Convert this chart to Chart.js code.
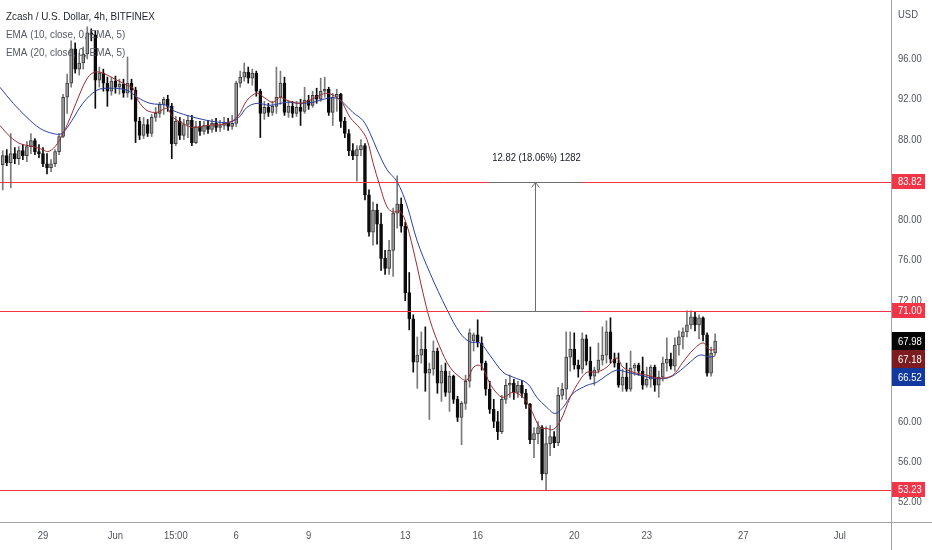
<!DOCTYPE html>
<html>
<head>
<meta charset="utf-8">
<title>Zcash / U.S. Dollar, 4h, BITFINEX</title>
<script src="https://cdn.jsdelivr.net/npm/chart.js@4.4.1/dist/chart.umd.min.js"></script>
<style>
  html, body { margin: 0; padding: 0; background: #ffffff; }
  #wrap { width: 932px; height: 550px; }
</style>
</head>
<body>
<div id="wrap"><canvas id="chart" width="932" height="550"></canvas></div>
<script>
// --- Data ---
// one slot per 4h candle, May 29 00:00 = slot 11, six slots per day
const firstSlot = 1;

const opens = [
  85.5, 86.4, 85.7, 86.6, 86.1, 86.9, 86.4, 87.3, 87.9, 86.8, 86.6, 85.6, 85.2, 85.6, 86.8, 88.3, 92.2, 93.6, 97.0, 95.0,
  95.6, 96.5, 98.6, 98.4, 93.9, 94.6, 93.6, 92.8, 93.8, 93.2, 93.5, 92.6, 93.6, 92.9, 89.8, 88.4, 89.5, 88.6, 90.2, 90.6,
  91.5, 92.0, 91.3, 87.6, 89.8, 88.4, 89.5, 89.9, 87.7, 89.3, 88.8, 89.4, 89.0, 89.6, 89.2, 89.4, 89.6, 89.3, 89.6, 93.6,
  94.2, 94.7, 94.1, 94.6, 92.8, 90.6, 91.2, 90.7, 91.3, 92.2, 93.6, 90.7, 91.3, 90.6, 91.2, 90.8, 91.9, 91.4, 92.4, 92.0,
  92.8, 93.0, 90.7, 92.2, 92.5, 89.8, 88.6, 86.9, 86.4, 87.0, 87.4, 82.5, 78.8, 81.0, 79.6, 76.2, 75.2, 77.0, 80.7, 81.6,
  79.4, 72.8, 70.2, 65.9, 66.6, 67.2, 64.8, 65.2, 67.0, 63.8, 65.0, 62.9, 64.5, 62.2, 60.4, 61.8, 64.0, 68.0, 68.6, 67.8,
  65.8, 63.2, 61.2, 60.0, 59.0, 62.2, 63.6, 63.8, 62.9, 63.6, 62.8, 61.7, 58.2, 58.8, 59.4, 54.8, 57.8, 58.5, 57.9, 62.6,
  63.2, 66.4, 67.2, 65.6, 65.2, 68.2, 66.0, 64.5, 65.1, 66.1, 66.6, 68.9, 66.2, 65.8, 63.6, 64.4, 63.2, 65.3, 65.6, 65.0,
  63.6, 64.2, 65.4, 63.6, 64.4, 65.8, 66.2, 65.5, 67.6, 68.4, 68.9, 69.6, 70.4, 69.6, 70.3, 68.6, 64.8, 66.8
];
const highs = [
  86.9, 87.0, 88.6, 87.2, 87.3, 87.5, 87.8, 88.6, 88.1, 87.5, 87.2, 86.6, 86.0, 87.0, 88.6, 92.5, 94.5, 97.8, 97.6, 96.6,
  97.2, 99.2, 99.0, 98.8, 95.2, 95.0, 94.2, 94.2, 94.3, 94.0, 94.0, 96.2, 94.0, 93.2, 90.2, 90.2, 90.0, 90.5, 91.2, 91.7,
  92.2, 92.4, 91.6, 90.3, 90.2, 90.0, 90.4, 90.4, 89.8, 89.8, 89.8, 89.9, 90.0, 90.1, 89.9, 90.2, 90.1, 90.4, 93.8, 94.8,
  95.6, 95.2, 95.0, 94.8, 93.0, 91.8, 91.6, 91.8, 95.2, 94.8, 94.2, 91.8, 91.8, 91.8, 92.0, 93.2, 92.4, 92.8, 93.1, 94.1,
  94.2, 93.2, 92.6, 93.0, 92.6, 90.2, 89.0, 87.6, 87.4, 88.0, 87.6, 83.0, 81.8, 81.6, 80.7, 77.0, 78.0, 81.2, 84.4, 82.2,
  79.8, 74.8, 70.6, 68.4, 68.9, 69.4, 65.8, 68.0, 67.3, 65.6, 65.8, 65.0, 64.6, 62.5, 62.0, 64.6, 69.2, 68.8, 70.1, 68.4,
  66.0, 64.0, 62.2, 61.0, 62.6, 64.2, 64.6, 64.2, 64.0, 64.1, 63.2, 61.8, 59.4, 60.0, 59.6, 59.5, 59.6, 59.0, 63.4, 63.8,
  68.9, 68.9, 68.8, 66.1, 68.8, 68.6, 67.4, 65.4, 67.8, 69.4, 70.0, 70.3, 66.8, 66.8, 65.2, 65.8, 67.0, 65.8, 65.8, 66.4,
  65.4, 65.6, 65.6, 65.0, 66.4, 68.3, 66.8, 68.3, 69.0, 69.3, 71.0, 71.0, 70.9, 70.6, 70.4, 68.8, 67.4, 68.7
];
const lows = [
  83.0, 85.4, 83.2, 85.6, 85.5, 86.0, 85.8, 86.6, 86.5, 86.2, 85.3, 84.6, 84.8, 85.3, 86.5, 88.2, 90.6, 93.2, 94.6, 94.4,
  95.0, 96.0, 97.8, 91.1, 93.2, 92.8, 91.3, 92.4, 92.6, 92.5, 92.2, 92.2, 92.0, 87.7, 88.0, 88.1, 88.3, 88.3, 89.8, 90.2,
  90.5, 90.8, 86.1, 87.4, 88.0, 88.0, 88.2, 87.4, 87.6, 88.4, 88.5, 88.6, 88.7, 88.8, 88.8, 89.0, 88.9, 89.0, 89.3, 93.2,
  93.8, 93.6, 93.4, 92.3, 88.2, 90.0, 90.3, 90.4, 90.6, 91.5, 90.4, 90.2, 90.2, 90.3, 89.4, 90.6, 91.0, 91.2, 91.6, 91.8,
  92.2, 90.4, 89.4, 90.8, 89.2, 88.2, 86.4, 86.0, 83.9, 86.4, 82.0, 78.4, 77.5, 77.6, 75.0, 74.6, 74.6, 74.4, 79.2, 78.8,
  72.0, 69.1, 64.9, 63.3, 65.8, 63.0, 60.2, 64.6, 62.8, 62.0, 62.5, 61.0, 61.8, 60.0, 57.7, 61.2, 63.4, 67.0, 67.4, 65.1,
  62.6, 60.8, 59.4, 58.2, 58.8, 61.8, 62.4, 62.2, 62.4, 62.4, 61.3, 57.8, 56.4, 57.8, 54.2, 53.23, 56.6, 57.4, 57.6, 62.2,
  62.2, 65.0, 65.2, 64.4, 64.8, 65.6, 64.2, 63.6, 64.8, 65.6, 65.8, 65.8, 65.4, 63.4, 63.0, 63.0, 63.0, 64.6, 64.6, 63.2,
  63.4, 63.4, 63.0, 62.4, 64.0, 65.0, 65.2, 65.0, 66.6, 67.2, 68.4, 69.2, 69.0, 68.2, 68.0, 64.5, 64.5, 66.6
];
const closes = [
  86.4, 85.7, 86.6, 86.1, 86.9, 86.4, 87.3, 87.9, 86.8, 86.6, 85.6, 85.2, 85.6, 86.8, 88.3, 92.2, 93.6, 97.0, 95.0, 95.6,
  96.5, 98.6, 98.4, 93.9, 94.6, 93.6, 92.8, 93.8, 93.2, 93.5, 92.6, 93.6, 92.9, 89.8, 88.4, 89.5, 88.6, 90.2, 90.6, 91.5,
  92.0, 91.3, 87.6, 89.8, 88.4, 89.5, 89.9, 87.7, 89.3, 88.8, 89.4, 89.0, 89.6, 89.2, 89.4, 89.6, 89.3, 89.6, 93.6, 94.2,
  94.7, 94.1, 94.6, 92.8, 90.6, 91.2, 90.7, 91.3, 92.2, 93.6, 90.7, 91.3, 90.6, 91.2, 90.8, 91.9, 91.4, 92.4, 92.0, 92.8,
  93.0, 90.7, 92.2, 92.5, 89.8, 88.6, 86.9, 86.4, 87.0, 87.4, 82.5, 78.8, 81.0, 79.6, 76.2, 75.2, 77.0, 80.7, 81.6, 79.4,
  72.8, 70.2, 65.9, 66.6, 67.2, 64.8, 65.2, 67.0, 63.8, 65.0, 62.9, 64.5, 62.2, 60.4, 61.8, 64.0, 68.8, 68.6, 67.8, 65.8,
  63.2, 61.2, 60.0, 59.0, 62.2, 63.6, 63.8, 62.9, 63.6, 62.8, 61.7, 58.2, 58.8, 59.4, 54.8, 57.8, 58.5, 57.9, 62.6, 63.2,
  66.4, 67.2, 65.6, 65.2, 68.2, 66.0, 64.5, 65.1, 66.1, 66.6, 68.9, 66.2, 65.8, 63.6, 64.4, 63.2, 65.3, 65.6, 65.0, 63.6,
  64.2, 65.4, 63.6, 64.4, 65.8, 66.2, 65.5, 67.6, 68.4, 68.9, 69.6, 70.4, 69.6, 70.3, 68.6, 64.8, 66.8, 67.98
];

// EMA lines, [slot, value]
const ema10 = [
  [0.3, 89.4], [2.8, 88.3], [5.3, 87.6], [8.5, 87.3], [11, 87.0], [12.2, 86.8], [14, 87.3], [16, 88.6], [18.2, 90.6],
  [20.2, 92.6], [22.2, 94.2], [23.9, 94.7], [25.9, 94.6], [28.4, 94.1], [31.9, 93.4], [33.4, 93.1], [34.6, 91.9],
  [36.8, 90.9], [39.3, 90.7], [41.8, 91.1], [43.3, 90.2], [45.8, 89.6], [48.3, 89.2], [51.8, 89.4], [56.7, 89.6],
  [59.4, 90.3], [61.7, 91.9], [64.2, 92.6], [66.2, 92.1], [68.1, 91.7], [69.9, 92.2], [71.6, 91.9], [74.9, 91.6],
  [77.3, 91.9], [79.8, 92.4], [81.6, 92.6], [84, 92.2], [85.3, 91.7], [87.3, 90.2], [89.8, 89.1], [91.5, 88.0],
  [93, 85.7], [94.7, 83.4], [96.5, 81.3], [98, 80.8], [99.7, 80.9], [101.4, 79.5], [103.5, 76.2], [105.4, 72.8],
  [107.2, 70.0], [109.6, 67.4], [112.1, 65.4], [114.6, 64.4], [116.3, 64.1], [117.8, 65.3], [119.1, 65.6], [120.3, 65.3],
  [122, 63.8], [123.8, 62.8], [125.3, 62.4], [127.8, 62.9], [130.3, 62.4], [132, 61.4], [134.5, 59.4], [136.2, 59.3],
  [137.7, 59.2], [139.5, 60.0], [142, 62.4], [144.4, 64.1], [146.2, 64.9], [148.6, 64.9], [151.1, 65.4], [153.6, 66.3],
  [155.1, 65.4], [157.6, 64.9], [161, 64.6], [164.3, 64.3], [167.5, 64.6], [170, 65.9], [172.5, 67.1], [175, 67.8],
  [176.7, 67.1], [178, 67.18]
];
const ema20 = [
  [0.3, 93.2], [3.6, 91.6], [7.0, 90.2], [10.3, 89.1], [13.5, 88.6], [15.7, 88.6], [18.2, 89.9], [20.9, 91.6],
  [24.4, 92.9], [27.7, 93.1], [31.9, 92.9], [34.4, 92.2], [37.6, 91.6], [41.8, 91.4], [43.3, 90.9], [46.8, 90.4],
  [51.8, 89.9], [56.7, 89.7], [59.4, 90.1], [61.7, 91.2], [64.2, 91.6], [67.4, 91.4], [71.6, 91.7], [74.9, 91.6],
  [78.1, 91.7], [81.6, 92.1], [84.0, 92.1], [85.5, 91.7], [88.0, 90.7], [90.5, 89.9], [92.3, 88.6], [94.0, 87.0],
  [96.5, 85.0], [99.0, 83.8], [101.4, 81.5], [104.0, 77.9], [107.2, 74.7], [111.4, 71.1], [114.6, 68.8], [117.1, 67.9],
  [119.6, 67.8], [122.0, 66.6], [125.3, 64.9], [127.8, 64.4], [131.3, 63.8], [133.7, 62.4], [136.2, 61.4], [138.2, 60.8],
  [140.2, 61.4], [142.7, 62.8], [146.2, 63.6], [148.6, 63.9], [151.1, 64.6], [153.6, 65.1], [156.1, 64.9], [159.3, 64.6],
  [162.6, 64.3], [166.0, 64.3], [168.5, 64.8], [171.8, 65.9], [174.2, 66.6], [176.7, 66.4], [178, 66.52]
];

const dateLabels = ["29", "Jun", "15:00", "6", "9", "13", "16", "20", "23", "27", "Jul"];
const dateSlots = [11, 29, 44, 59, 77, 101, 119, 143, 161, 185, 209];
const priceTicks = [52, 56, 60, 64, 68, 72, 76, 80, 84, 88, 92, 96];
const levels = [83.82, 71.00, 53.23];
const measureLow = 71.00;
const measureHigh = 83.82;
const measureSlots = [121.8, 144.9];
const measureText = "12.82 (18.06%) 1282";
const legendLines = ["Zcash / U.S. Dollar, 4h, BITFINEX", "EMA (10, close, 0, EMA, 5)", "EMA (20, close, 0, EMA, 5)"];

// --- Colours ---
const UP_FILL = "#9c9c9c", UP_EDGE = "#3c3c3c", UP_WICK = "#7a7a7a";
const DOWN_FILL = "#0c0c0c";
const LEVEL_RED = "rgb(242, 54, 72)";
const EMA10_COLOR = "#9b2b30";
const EMA20_COLOR = "#2a3fa6";
const AXIS_TEXT = "#4f525c";
const FONT = "'Liberation Sans', Arial, sans-serif";
const SQUEEZE = 0.86; // the original labels use a narrow face

const slots = closes.map((c, i) => firstSlot + i);
const isUp = closes.map((c, i) => c >= opens[i]);

const wickData = slots.map((s, i) => ({ x: s, y: [lows[i], highs[i]] }));
const bodyData = slots.map((s, i) => {
  const lo = Math.min(opens[i], closes[i]);
  const hi = Math.max(opens[i], closes[i]);
  return { x: s, y: [lo, Math.max(hi, lo + 0.06)] };
});

// narrow text helper
function narrowText(ctx, text, x, y, align, color, size) {
  ctx.save();
  ctx.font = (size || 11) + "px " + FONT;
  ctx.fillStyle = color;
  ctx.textBaseline = "middle";
  ctx.textAlign = align;
  ctx.translate(x, y);
  ctx.scale(SQUEEZE, 1);
  ctx.fillText(text, 0, 0);
  ctx.restore();
}

// --- Overlay: levels, measure, axis text, price tags, legend ---
const overlay = {
  id: "overlay",
  afterDatasetsDraw(chart) {
    const { ctx, chartArea: a, scales: { x, y } } = chart;
    ctx.save();
    ctx.beginPath();
    ctx.rect(a.left, a.top, a.width, a.height);
    ctx.clip();
    ctx.lineWidth = 1;

    levels.forEach(v => {
      const py = Math.round(y.getPixelForValue(v)) + 0.5;
      ctx.strokeStyle = LEVEL_RED;
      ctx.beginPath();
      ctx.moveTo(a.left, py);
      ctx.lineTo(a.right, py);
      ctx.stroke();
    });

    // price range tool
    const x0 = x.getPixelForValue(measureSlots[0]);
    const x1 = x.getPixelForValue(measureSlots[1]);
    const xm = Math.round((x0 + x1) / 2) + 0.5;
    const yTop = Math.round(y.getPixelForValue(measureHigh)) + 0.5;
    const yBot = Math.round(y.getPixelForValue(measureLow)) + 0.5;
    ctx.strokeStyle = "#6f6f6f";
    [yTop, yBot].forEach(py => {
      ctx.beginPath();
      ctx.moveTo(x0, py);
      ctx.lineTo(x1, py);
      ctx.stroke();
    });
    ctx.beginPath();
    ctx.moveTo(xm, yBot);
    ctx.lineTo(xm, yTop);
    ctx.moveTo(xm - 4, yTop + 5);
    ctx.lineTo(xm, yTop);
    ctx.lineTo(xm + 4, yTop + 5);
    ctx.stroke();
    ctx.restore();

    narrowText(ctx, measureText, xm + 1, yTop - 25, "center", "#131722", 11);
  },
  afterDraw(chart) {
    const { ctx, chartArea: a, scales: { x, y } } = chart;
    const W = chart.width, H = chart.height;
    ctx.save();

    // axis separators
    ctx.strokeStyle = "#a3a3a3";
    ctx.lineWidth = 1;
    ctx.beginPath();
    ctx.moveTo(Math.round(a.right) + 0.5, 0);
    ctx.lineTo(Math.round(a.right) + 0.5, H);
    ctx.moveTo(0, Math.round(a.bottom) + 0.5);
    ctx.lineTo(W, Math.round(a.bottom) + 0.5);
    ctx.stroke();
    ctx.restore();

    // axis labels from the scales' own ticks
    y.ticks.forEach(t => narrowText(ctx, t.value.toFixed(2), a.right + 7, y.getPixelForValue(t.value), "left", AXIS_TEXT, 11));
    x.ticks.forEach((t, i) => narrowText(ctx, dateLabels[i], x.getPixelForValue(t.value), a.bottom + 14, "center", AXIS_TEXT, 11));
    narrowText(ctx, "USD", a.right + 7, 15, "left", AXIS_TEXT, 11);

    const tag = (cy, h, bg, text) => {
      ctx.fillStyle = bg;
      ctx.fillRect(a.right + 1, Math.round(cy - h / 2), 33, h);
      narrowText(ctx, text, a.right + 7, cy + 0.5, "left", "#ffffff", 11);
    };

    levels.forEach(v => tag(y.getPixelForValue(v), 15, LEVEL_RED, v.toFixed(2)));

    // stacked tags: last price and the two EMAs
    const stacked = [
      [closes[closes.length - 1], "#050505"],
      [ema10[ema10.length - 1][1], "#7c1c21"],
      [ema20[ema20.length - 1][1], "#12399f"]
    ];
    let prev = -Infinity;
    stacked.forEach(([v, bg]) => {
      const cy = Math.max(y.getPixelForValue(v), prev + 18);
      tag(cy, 18, bg, v.toFixed(2));
      prev = cy;
    });

    // legend
    narrowText(ctx, legendLines[0], 6, 17, "left", "#1e222d", 11.5);
    narrowText(ctx, legendLines[1], 6, 35, "left", "#555a66", 11.5);
    narrowText(ctx, legendLines[2], 6, 53, "left", "#555a66", 11.5);
  }
};

new Chart(document.getElementById("chart"), {
  type: "bar",
  data: {
    datasets: [
      {
        type: "line",
        data: ema10.map(p => ({ x: p[0], y: p[1] })),
        borderColor: EMA10_COLOR,
        borderWidth: 1,
        pointRadius: 0,
        tension: 0.35,
        order: 0
      },
      {
        type: "line",
        data: ema20.map(p => ({ x: p[0], y: p[1] })),
        borderColor: EMA20_COLOR,
        borderWidth: 1,
        pointRadius: 0,
        tension: 0.35,
        order: 0
      },
      {
        data: bodyData,
        backgroundColor: isUp.map(u => u ? UP_FILL : DOWN_FILL),
        borderColor: isUp.map(u => u ? UP_EDGE : DOWN_FILL),
        borderWidth: 1,
        borderSkipped: false,
        barThickness: 3,
        grouped: false,
        order: 1
      },
      {
        data: wickData,
        backgroundColor: isUp.map(u => u ? UP_WICK : DOWN_FILL),
        barThickness: 1,
        grouped: false,
        order: 2
      }
    ]
  },
  options: {
    responsive: false,
    animation: false,
    events: [],
    layout: { padding: 0 },
    plugins: {
      legend: { display: false },
      tooltip: { enabled: false },
      title: { display: false }
    },
    scales: {
      x: {
        type: "linear",
        min: 0.32,
        max: 221.7,
        offset: false,
        grid: { display: false, drawTicks: false },
        border: { display: false },
        afterBuildTicks: s => { s.ticks = dateSlots.map(v => ({ value: v })); },
        afterFit: s => { s.height = 28; s.paddingLeft = 0; s.paddingRight = 0; },
        ticks: { display: false, autoSkip: false }
      },
      y: {
        position: "right",
        min: 50.02,
        max: 101.86,
        grid: { display: false, drawTicks: false },
        border: { display: false },
        afterBuildTicks: s => { s.ticks = priceTicks.map(v => ({ value: v })); },
        afterFit: s => { s.width = 41; s.paddingTop = 0; s.paddingBottom = 0; },
        ticks: { display: false }
      }
    }
  },
  plugins: [overlay]
});
</script>
</body>
</html>
